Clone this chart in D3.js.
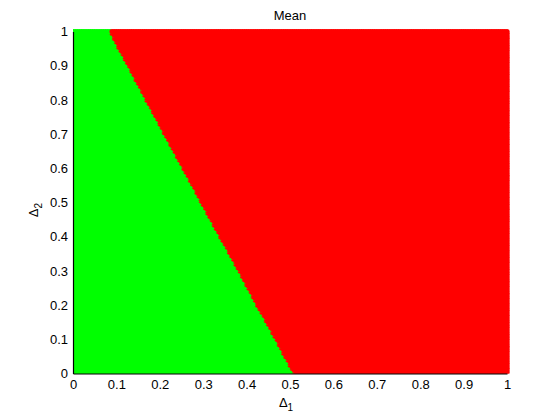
<!DOCTYPE html>
<html><head><meta charset="utf-8">
<script src="https://cdn.jsdelivr.net/npm/d3@7"></script>
<style>body{margin:0;background:#fff}svg{display:block}text{font-family:"Liberation Sans",Arial,sans-serif;font-size:13px;fill:#000}</style>
</head><body>
<script>
// Boundary between the two regions: for each Δ2 level, Δ1 where colour switches
const delta2Levels = [0, 0.1, 0.2, 0.3, 0.4, 0.5, 0.6, 0.7, 0.8, 0.9, 1.0];
const boundaryDelta1 = [0.51, 0.468, 0.425, 0.383, 0.34, 0.297, 0.255, 0.212, 0.17, 0.128, 0.086];
const gridValues = d3.range(0, 201).map(i => i / 200); // sampling grid of the scatter (step 0.005)
const tickValues = [0, 0.1, 0.2, 0.3, 0.4, 0.5, 0.6, 0.7, 0.8, 0.9, 1];
const tickLabels = ["0", "0.1", "0.2", "0.3", "0.4", "0.5", "0.6", "0.7", "0.8", "0.9", "1"];
const colorLow = "#00ff00", colorHigh = "#ff0000";
const title = "Mean";

const W = 560, H = 420;
const x = d3.scaleLinear().domain([0, 1]).range([73, 507]);
const y = d3.scaleLinear().domain([0, 1]).range([373.5, 31.5]);
const bnd = d3.scaleLinear().domain(delta2Levels).range(boundaryDelta1);

const svg = d3.select("body").append("svg").attr("width", W).attr("height", H);
svg.append("defs").append("clipPath").attr("id", "c")
  .append("rect").attr("x", 73).attr("y", 26).attr("width", 442).attr("height", 347.5);

const pts = [];
for (const d2 of gridValues) for (const d1 of gridValues) pts.push({d1, d2, g: d1 < bnd(d2)});
svg.append("g").attr("clip-path", "url(#c)").selectAll("circle").data(pts).join("circle")
  .attr("cx", d => x(d.d1)).attr("cy", d => y(d.d2)).attr("r", 2.6)
  .attr("fill", d => d.g ? colorLow : colorHigh);

// axes
const xa = svg.append("g").attr("transform", "translate(0,373.5)")
  .call(d3.axisBottom(x).tickValues(tickValues).tickFormat((d, i) => tickLabels[i]).tickSize(0).tickPadding(6));
const ya = svg.append("g").attr("transform", "translate(73,0)")
  .call(d3.axisLeft(y).tickValues(tickValues).tickFormat((d, i) => tickLabels[i]).tickSize(0).tickPadding(5));
[xa, ya].forEach(a => {
  a.select(".domain").attr("stroke", "#000").attr("stroke-width", 1.2);
  a.selectAll("text").attr("font-size", 13).attr("font-family", '"Liberation Sans",Arial,sans-serif');
});

svg.append("text").attr("x", 290).attr("y", 20).attr("text-anchor", "middle").text(title);
const xl = svg.append("text").attr("x", 286).attr("y", 407).attr("text-anchor", "middle");
xl.append("tspan").text("Δ");
xl.append("tspan").attr("dy", 4).attr("font-size", 10).text("1");
const yl = svg.append("text").attr("transform", "translate(38,210) rotate(-90)").attr("text-anchor", "middle");
yl.append("tspan").text("Δ");
yl.append("tspan").attr("dy", 4).attr("font-size", 10).text("2");
</script>
</body></html>
